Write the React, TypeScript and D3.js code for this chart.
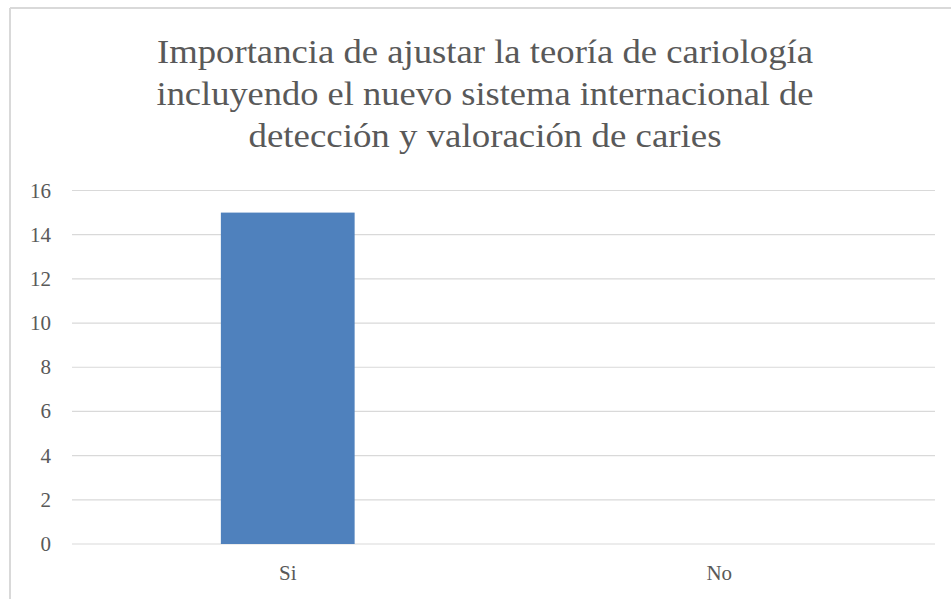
import React from "react";
import * as d3 from "d3";

const categories = ["Si", "No"];
const values = [15, 0];
const yTicks = [0, 2, 4, 6, 8, 10, 12, 14, 16];
const titleLines = [
  "Importancia de ajustar la teoría de cariología",
  "incluyendo el nuevo sistema internacional de",
  "detección y valoración de caries",
];

const W = 951;
const H = 599;
const plot = { left: 72, right: 935, top: 190.5, bottom: 544 };
const FONT = "Liberation Serif";

export default function App() {
  const x = d3
    .scaleBand<string>()
    .domain(categories)
    .range([plot.left, plot.right])
    .paddingInner(0.69)
    .paddingOuter(0.345);
  const xc = d3.scaleBand<string>().domain(categories).range([plot.left, plot.right]).padding(0);
  const y = d3.scaleLinear().domain([0, 16]).range([plot.bottom, plot.top]);

  const titleY = [63, 105, 147];
  const titleW = [656, 657, 473];
  const ts = { fontFamily: FONT };

  return (
    <svg
      width={W}
      height={H}
      style={{ position: "absolute", left: 0, top: 0, background: "#fff" }}
    >
      <rect x={0} y={0} width={W} height={H} fill="#fff" />
      <line x1={10} y1={8} x2={951} y2={8} stroke="#d9d9d9" strokeWidth={2} />
      <line x1={10} y1={8} x2={10} y2={599} stroke="#d9d9d9" strokeWidth={2} />
      {titleLines.map((t, i) => (
        <text
          key={i}
          x={485}
          y={titleY[i]}
          textAnchor="middle"
          fontSize={34}
          fill="#595959"
          textLength={titleW[i]}
          lengthAdjust="spacingAndGlyphs"
          style={ts}
        >
          {t}
        </text>
      ))}
      {yTicks.map((t) => (
        <line
          key={t}
          x1={plot.left}
          x2={plot.right}
          y1={y(t)}
          y2={y(t)}
          stroke="#d9d9d9"
          strokeWidth={1.2}
        />
      ))}
      {yTicks.map((t) => (
        <text
          key={"l" + t}
          x={51}
          y={y(t) + 7}
          textAnchor="end"
          fontSize={21}
          fill="#595959"
          style={ts}
        >
          {t}
        </text>
      ))}
      {categories.map((c, i) =>
        values[i] > 0 ? (
          <rect
            key={c}
            x={x(c)!}
            y={y(values[i])}
            width={x.bandwidth()}
            height={y(0) - y(values[i])}
            fill="#4f81bd"
          />
        ) : null
      )}
      {categories.map((c) => (
        <text
          key={"x" + c}
          x={xc(c)! + xc.bandwidth() / 2}
          y={580}
          textAnchor="middle"
          fontSize={21}
          fill="#595959"
          style={ts}
        >
          {c}
        </text>
      ))}
    </svg>
  );
}
